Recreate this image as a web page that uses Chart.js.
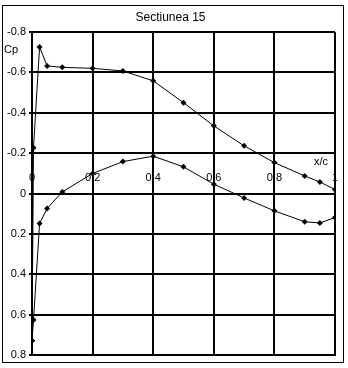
<!DOCTYPE html>
<html>
<head>
<meta charset="utf-8">
<script src="https://cdn.jsdelivr.net/npm/chart.js@4"></script>
<style>
    body { margin: 0; background: #ffffff; }
    canvas { display: block; }
</style>
</head>
<body>
<canvas id="cpChart" width="348" height="368"></canvas>
<script>
const xUpper = [0, 0.005, 0.025, 0.05, 0.1, 0.2, 0.3, 0.4, 0.5, 0.6, 0.7, 0.8, 0.9, 0.95, 1];
const cpUpper = [0.73, -0.227, -0.726, -0.632, -0.625, -0.62, -0.607, -0.558, -0.45, -0.335, -0.236, -0.153, -0.087, -0.057, -0.02];

const xLower = [0, 0.005, 0.025, 0.05, 0.1, 0.2, 0.3, 0.4, 0.5, 0.6, 0.7, 0.8, 0.9, 0.95, 1];
const cpLower = [0.73, 0.627, 0.149, 0.074, -0.008, -0.099, -0.158, -0.185, -0.132, -0.046, 0.022, 0.086, 0.14, 0.146, 0.119];

const xTickValues = [0, 0.2, 0.4, 0.6, 0.8, 1];
const xTickLabels = ["0", "0.2", "0.4", "0.6", "0.8", "1"];
const yTickValues = [-0.8, -0.6, -0.4, -0.2, 0, 0.2, 0.4, 0.6, 0.8];
const yTickLabels = ["-0.8", "-0.6", "-0.4", "-0.2", "0", "0.2", "0.4", "0.6", "0.8"];

const FONT = "Liberation Sans, Arial, sans-serif";

function toPoints(xs, ys) {
    return xs.map((x, i) => ({ x: x, y: ys[i] }));
}

function yLabelFor(value) {
    const i = yTickValues.findIndex((v) => Math.abs(v - value) < 1e-6);
    return i >= 0 ? yTickLabels[i] : "";
}

// frame, axis labels drawn at the zero line like the excel chart
const excelBits = {
    id: "excelBits",
    beforeDraw(chart) {
        const ctx = chart.ctx;
        ctx.save();
        ctx.fillStyle = "#ffffff";
        ctx.fillRect(0, 0, chart.width, chart.height);
        ctx.restore();
    },
    afterDraw(chart) {
        const ctx = chart.ctx;
        const xScale = chart.scales.x;
        const yScale = chart.scales.y;
        const zeroY = yScale.getPixelForValue(0);

        ctx.save();
        ctx.strokeStyle = "#000000";
        ctx.lineWidth = 1;
        ctx.strokeRect(2.5, 5.5, 341, 357);

        ctx.fillStyle = "#000000";
        ctx.font = "11px " + FONT;
        ctx.textAlign = "center";
        ctx.textBaseline = "middle";
        xTickValues.forEach((v, i) => {
            ctx.fillText(xTickLabels[i], xScale.getPixelForValue(v), zeroY - 16);
        });

        ctx.fillText("x/c", 321, 162);
        ctx.textAlign = "left";
        ctx.fillText("Cp", 4, 50);
        ctx.restore();
    }
};

new Chart(document.getElementById("cpChart"), {
    type: "scatter",
    data: {
        datasets: [{
            label: "Upper",
            data: toPoints(xUpper, cpUpper),
            showLine: true,
            borderColor: "#000000",
            borderWidth: 1,
            backgroundColor: "#000000",
            pointStyle: "rectRot",
            pointRadius: 3,
            pointBorderWidth: 0
        }, {
            label: "Lower",
            data: toPoints(xLower, cpLower),
            showLine: true,
            borderColor: "#000000",
            borderWidth: 1,
            backgroundColor: "#000000",
            pointStyle: "rectRot",
            pointRadius: 3,
            pointBorderWidth: 0
        }]
    },
    options: {
        responsive: false,
        animation: false,
        layout: {
            padding: { left: 6, right: 13, top: 2, bottom: 13 }
        },
        plugins: {
            legend: { display: false },
            tooltip: { enabled: false },
            title: {
                display: true,
                text: "Sectiunea 15",
                color: "#000000",
                font: { family: FONT, size: 12, weight: "normal", lineHeight: 1.2 },
                padding: { top: 8, bottom: 7.6 }
            }
        },
        scales: {
            x: {
                type: "linear",
                min: 0,
                max: 1,
                ticks: { display: false, stepSize: 0.2 },
                grid: { color: "#000000", lineWidth: 2, drawTicks: false },
                border: { color: "#000000", width: 2 },
                afterFit(scale) { scale.height = 0; }
            },
            y: {
                type: "linear",
                reverse: true,
                min: -0.8,
                max: 0.8,
                ticks: {
                    stepSize: 0.2,
                    color: "#000000",
                    padding: 3,
                    font: { family: FONT, size: 11 },
                    callback: (value) => yLabelFor(value)
                },
                grid: { color: "#000000", lineWidth: 2, tickLength: 3 },
                border: { color: "#000000", width: 2 },
                afterFit(scale) { scale.width = 26; }
            }
        }
    },
    plugins: [excelBits]
});
</script>
</body>
</html>
